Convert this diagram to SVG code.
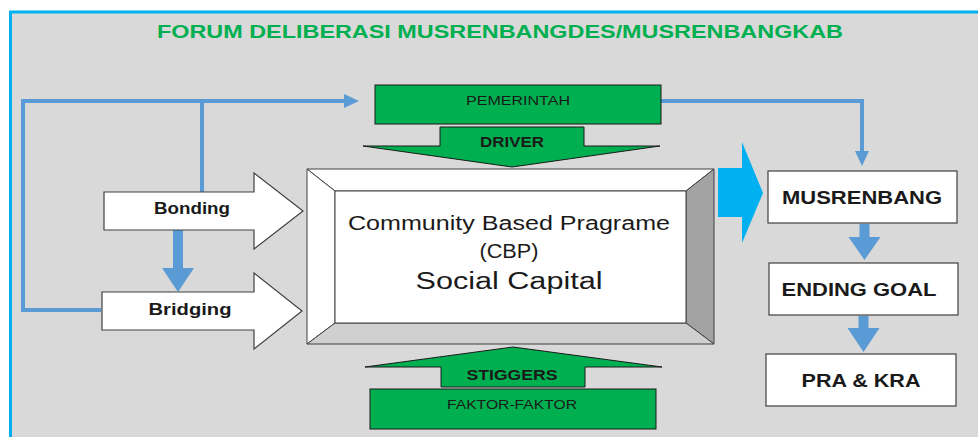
<svg xmlns="http://www.w3.org/2000/svg" width="978" height="437" viewBox="0 0 978 437">
  <defs>
    <style>
      .lbl { font-family: "Liberation Sans", Arial, sans-serif; fill: #1a1a1a; text-anchor: middle; }
      .b { font-weight: bold; }
      .green { fill: #00b050; stroke: #1a1a1a; stroke-width: 1; }
      .white { fill: #ffffff; stroke: #404040; stroke-width: 1.2; }
      .flow { fill: none; stroke: #5b9bd5; stroke-width: 4; }
      .fat { fill: #5b9bd5; }
      .edge { stroke: #404040; stroke-width: 1; }
    </style>
    <marker id="head" markerUnits="userSpaceOnUse" markerWidth="15" markerHeight="14" refX="4" refY="7" orient="auto">
      <path d="M0,0 L15,7 L0,14 z" fill="#5b9bd5"/>
    </marker>
  </defs>

  <!-- background panel -->
  <rect x="0" y="0" width="978" height="437" fill="#ffffff"/>
  <rect x="10.5" y="12" width="1000" height="500" fill="#d9d9d9" stroke="#00b0f0" stroke-width="3"/>

  <text class="lbl b" x="500" y="38" font-size="19" style="fill:#00b050" textLength="686" lengthAdjust="spacingAndGlyphs">FORUM DELIBERASI MUSRENBANGDES/MUSRENBANGKAB</text>

  <!-- connectors -->
  <g id="connectors">
    <path class="flow" d="M101,310 H23 V101 H348" marker-end="url(#head)"/>
    <path class="flow" d="M202,101 V192"/>
    <path class="flow" d="M661,101 H862 V155" marker-end="url(#head)"/>
    <polygon class="fat" points="173,230 183,230 183,268 194,268 178,292 162,268 173,268"/>
    <polygon class="fat" points="859.5,224 869.5,224 869.5,237 880.5,237 864.5,260 848.5,237 859.5,237"/>
    <polygon class="fat" points="858.5,316 868.5,316 868.5,328 879.5,328 863.5,352 847.5,328 858.5,328"/>
    <polygon points="718,168 742,168 742,142 763,193 742,243 742,217 718,217" fill="#00b0f0"/>
  </g>

  <!-- government -->
  <g id="pemerintah">
    <rect class="green" x="375" y="85" width="286" height="39"/>
    <text class="lbl" x="518" y="104.5" font-size="12" textLength="104" lengthAdjust="spacingAndGlyphs">PEMERINTAH</text>
  </g>

  <g id="driver">
    <polygon class="green" points="440,127 584,127 584,146 660,146 512,167 363,146 440,146"/>
    <text class="lbl b" x="512" y="147" font-size="14" textLength="64" lengthAdjust="spacingAndGlyphs">DRIVER</text>
  </g>

  <!-- bonding / bridging block arrows -->
  <g id="bonding">
    <polygon class="white" points="104,192 254,192 254,173 303,211 254,249 254,230 104,230"/>
    <text class="lbl b" x="192" y="213.5" font-size="16" textLength="76" lengthAdjust="spacingAndGlyphs">Bonding</text>
  </g>

  <g id="bridging">
    <polygon class="white" points="102,292 254,292 254,273 302,311 254,349 254,330 102,330"/>
    <text class="lbl b" x="190" y="315" font-size="16" textLength="83" lengthAdjust="spacingAndGlyphs">Bridging</text>
  </g>

  <!-- central bevelled box -->
  <g id="social-capital">
    <polygon class="edge" points="307,169 714,169 686,191 335,191" fill="#ffffff"/>
    <polygon class="edge" points="307,169 335,191 335,323 307,344" fill="#ffffff"/>
    <polygon class="edge" points="714,169 714,344 686,323 686,191" fill="#a3a3a3"/>
    <polygon class="edge" points="307,344 714,344 686,323 335,323" fill="#d0d0d0"/>
    <rect class="edge" x="335" y="191" width="351" height="132" fill="#ffffff"/>
    <text class="lbl" x="509" y="230" font-size="20" textLength="322" lengthAdjust="spacingAndGlyphs">Community Based Pragrame</text>
    <text class="lbl" x="509" y="258" font-size="20" textLength="59" lengthAdjust="spacingAndGlyphs">(CBP)</text>
    <text class="lbl" x="509" y="289" font-size="23" textLength="187" lengthAdjust="spacingAndGlyphs">Social Capital</text>
  </g>

  <!-- triggers -->
  <g id="stiggers">
    <polygon class="green" points="513,347 662,367 585,367 585,387 441,387 441,367 365,367"/>
    <text class="lbl b" x="512" y="379.5" font-size="15" textLength="91" lengthAdjust="spacingAndGlyphs">STIGGERS</text>
  </g>

  <g id="faktor">
    <rect class="green" x="370" y="389" width="286" height="40"/>
    <text class="lbl" x="512" y="409" font-size="13" textLength="130" lengthAdjust="spacingAndGlyphs">FAKTOR-FAKTOR</text>
  </g>

  <!-- outcome chain -->
  <g id="musrenbang">
    <rect class="white" x="768" y="171" width="189" height="52"/>
    <text class="lbl b" x="862" y="204" font-size="19" textLength="160" lengthAdjust="spacingAndGlyphs">MUSRENBANG</text>
  </g>

  <g id="ending-goal">
    <rect class="white" x="769" y="263" width="189" height="52"/>
    <text class="lbl b" x="859" y="296" font-size="19" textLength="155" lengthAdjust="spacingAndGlyphs">ENDING GOAL</text>
  </g>

  <g id="pra-kra">
    <rect class="white" x="766" y="354" width="190" height="52"/>
    <text class="lbl b" x="861" y="387" font-size="19" textLength="119" lengthAdjust="spacingAndGlyphs">PRA &amp; KRA</text>
  </g>
</svg>
